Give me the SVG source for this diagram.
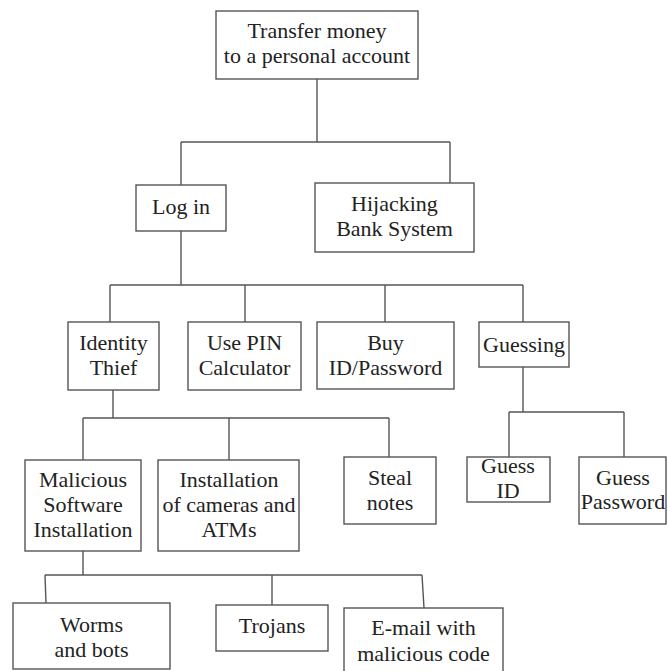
<svg xmlns="http://www.w3.org/2000/svg" width="668" height="671" viewBox="0 0 668 671">
  <style>
    .box { fill: #ffffff; stroke: #555555; stroke-width: 1.4; }
    .wire { fill: none; stroke: #555555; stroke-width: 1.4; }
    text { font-family: "Liberation Serif", "Times New Roman", serif; font-size: 22px; fill: #222222; text-anchor: middle; }
  </style>
  <rect width="668" height="671" fill="#ffffff"/>

  <!-- connectors -->
  <g id="connectors">
    <path class="wire" d="M317,79 V142 M181,142 H450 M181,142 V185 M450,142 V183"/>
    <path class="wire" d="M181,231 V285 M110,285 H523 M110,285 V322 M245,285 V322 M385,285 V322 M523,285 V322"/>
    <path class="wire" d="M523,367 V412 M509,412 H624 M509,412 V457 M624,412 V457"/>
    <path class="wire" d="M113,390 V418 M83,418 H389 M83,418 V460 M229,418 V460 M389,418 V457"/>
    <path class="wire" d="M83,551 V575 M45,575 H422 M45,575 L46,603 M272,575 V605 M422,575 L424,608"/>
  </g>

  <g id="transfer">
    <rect class="box" x="216" y="11" width="202" height="68"/>
    <text x="317" y="38">Transfer money</text>
    <text x="317" y="63">to a personal account</text>
  </g>

  <g id="login">
    <rect class="box" x="136" y="185" width="90" height="46"/>
    <text x="181" y="214">Log in</text>
  </g>

  <g id="hijacking">
    <rect class="box" x="315" y="183" width="159" height="69"/>
    <text x="394.5" y="211">Hijacking</text>
    <text x="394.5" y="236">Bank System</text>
  </g>

  <g id="identity-thief">
    <rect class="box" x="68" y="322" width="91" height="68"/>
    <text x="113.5" y="350">Identity</text>
    <text x="113.5" y="375">Thief</text>
  </g>

  <g id="pin-calculator">
    <rect class="box" x="188" y="322" width="113" height="68"/>
    <text x="244.5" y="350">Use PIN</text>
    <text x="244.5" y="375">Calculator</text>
  </g>

  <g id="buy-password">
    <rect class="box" x="317" y="322" width="137" height="67"/>
    <text x="385.5" y="350">Buy</text>
    <text x="385.5" y="375">ID/Password</text>
  </g>

  <g id="guessing">
    <rect class="box" x="479" y="322" width="90" height="45"/>
    <text x="524" y="352">Guessing</text>
  </g>

  <g id="malicious-software">
    <rect class="box" x="25" y="460" width="116" height="91"/>
    <text x="83" y="487">Malicious</text>
    <text x="83" y="512">Software</text>
    <text x="83" y="537">Installation</text>
  </g>

  <g id="cameras-atms">
    <rect class="box" x="158" y="460" width="141" height="91"/>
    <text x="229" y="487">Installation</text>
    <text x="229" y="512">of cameras and</text>
    <text x="229" y="537">ATMs</text>
  </g>

  <g id="steal-notes">
    <rect class="box" x="344" y="457" width="92" height="67"/>
    <text x="390" y="485">Steal</text>
    <text x="390" y="510">notes</text>
  </g>

  <g id="guess-id">
    <rect class="box" x="467" y="457" width="83" height="45"/>
    <text x="508" y="473">Guess</text>
    <text x="508" y="498">ID</text>
  </g>

  <g id="guess-password">
    <rect class="box" x="579" y="457" width="87" height="67"/>
    <text x="623" y="485">Guess</text>
    <text x="623" y="509">Password</text>
  </g>

  <g id="worms-bots">
    <rect class="box" x="13" y="603" width="157" height="66"/>
    <text x="91.5" y="632">Worms</text>
    <text x="91.5" y="657">and bots</text>
  </g>

  <g id="trojans">
    <rect class="box" x="216" y="605" width="112" height="46"/>
    <text x="272" y="633">Trojans</text>
  </g>

  <g id="email-code">
    <rect class="box" x="344" y="608" width="159" height="66"/>
    <text x="423.5" y="635">E-mail with</text>
    <text x="423.5" y="661">malicious code</text>
  </g>
</svg>
